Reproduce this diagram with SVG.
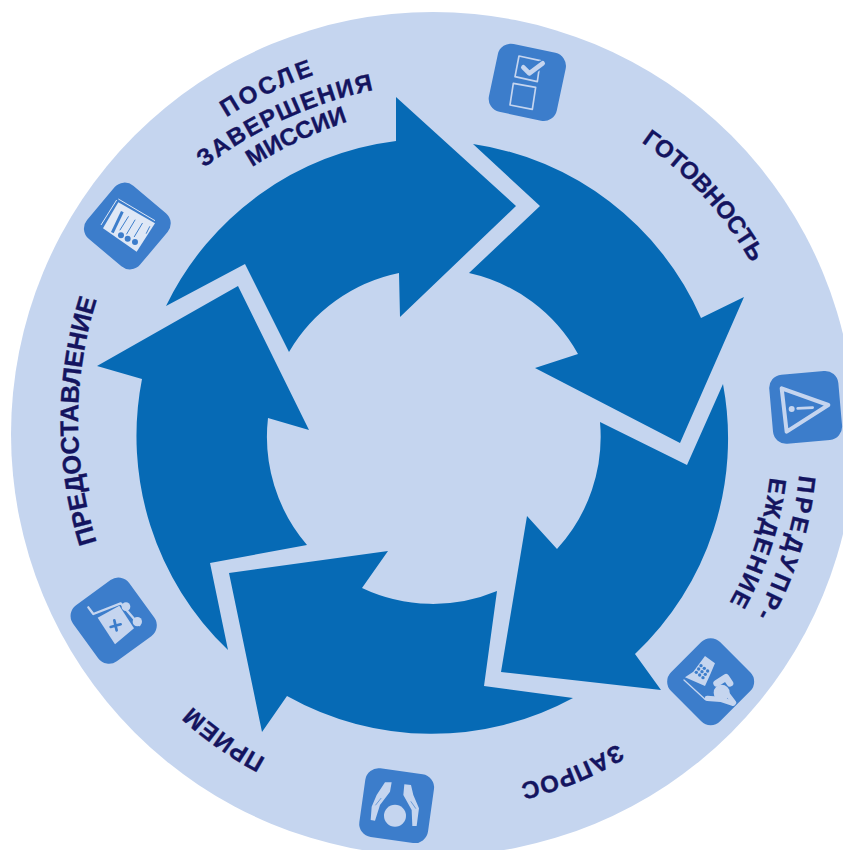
<svg xmlns="http://www.w3.org/2000/svg" width="843" height="850" viewBox="0 0 843 850">
<style>
.arrow{fill:#066ab5}
.bg{fill:#3c7dcb}
.l{fill:#c5d5ef}
.s{fill:none;stroke:#c5d5ef;stroke-linejoin:round;stroke-linecap:round}
.b{fill:none;stroke:#3c7dcb;stroke-linecap:round}
.t{font-family:"Liberation Sans",Arial,sans-serif;font-weight:700;font-size:24px;fill:#14145f;stroke:#14145f;stroke-width:.35;text-anchor:middle}
</style>
<defs>
<path id="r336" d="M-336,0A336,336 0 0 1 336,0"/>
<path id="r355" d="M-355,0A355,355 0 0 1 355,0"/>
<path id="r400" d="M-400,0A400,400 0 0 1 400,0"/>
<path id="r361" d="M-361,0A361,361 0 0 1 361,0"/>
<path id="r362" d="M-362,0A362,362 0 0 1 362,0"/>
<path id="r365" d="M-365,0A365,365 0 0 1 365,0"/>
<path id="r420" d="M-420,0A420,420 0 0 1 420,0"/>
</defs>
<circle id="disc" cx="433" cy="434" r="422" fill="#c5d5ef"/>
<g id="connectors">
<path class="arrow" d="M166,306A296,296 0 0 1 396,141L396,97L516,206L400,317L399,273A166,166 0 0 0 289,352L245,264Z"/>
<path class="arrow" d="M473,144A296,296 0 0 1 701,318L744,297L680,443L535,368L578,354A166,166 0 0 0 469,273L540,206Z"/>
<path class="arrow" d="M723,384A296,296 0 0 1 635,654L661,690L501,672L527,516L557,549A166,166 0 0 0 600,422L687,465Z"/>
<path class="arrow" d="M573,698A296,296 0 0 1 287,696L262,732L229,573L388,551L362,588A166,166 0 0 0 497,591L484,686Z"/>
<path class="arrow" d="M228,650A296,296 0 0 1 142,379L97,366L238,286L309,430L268,418A166,166 0 0 0 307,545L210,563Z"/>
</g>
<g id="icon-checklist" transform="translate(470,30) scale(.3333)">
<rect class="bg" x="68" y="53" width="208" height="208" rx="40" transform="rotate(12 172 157)"/>
<path class="s" stroke-width="5" d="M147,78L211,92L202,155L135,140Z"/>
<path class="s" stroke-width="5" d="M130,160L197,172L187,238L120,225Z"/>
<path fill="none" stroke="#3c7dcb" stroke-width="24" d="M160,112L178,130L218,100"/>
<path class="s" stroke-width="14" stroke-linecap="butt" d="M160,112L178,130L218,100"/>
</g>
<g id="icon-warning" transform="translate(750,360) scale(.3333)">
<rect class="bg" x="63" y="38" width="208" height="208" rx="40" transform="rotate(-5 167 142)"/>
<path class="s" stroke-width="12" d="M95,85L235,135L110,215Z"/>
<circle class="l" cx="125" cy="147" r="9"/>
<path class="s" stroke-width="8" d="M143,145L188,143"/>
</g>
<g id="icon-phone" transform="translate(650,620) scale(.3333)">
<rect class="bg" x="78" y="81" width="208" height="208" rx="40" transform="rotate(45 182 185)"/>
<path class="l" d="M165,108L195,130L180,165L165,198L105,172L130,155Z"/>
<g fill="#3c7dcb"><circle cx="153" cy="137" r="5"/><circle cx="163" cy="145" r="5"/><circle cx="173" cy="153" r="5"/><circle cx="146" cy="147" r="5"/><circle cx="156" cy="155" r="5"/><circle cx="166" cy="163" r="5"/><circle cx="139" cy="157" r="5"/><circle cx="149" cy="165" r="5"/><circle cx="159" cy="173" r="5"/></g>
<path class="s" stroke-width="4" d="M102,180L165,238"/>
<circle class="l" cx="215" cy="218" r="24"/>
<path class="s" stroke-width="20" stroke-linecap="butt" d="M200,190L228,172L240,190"/>
<path class="s" stroke-width="16" d="M172,235L212,238L248,250"/>
<path class="s" stroke-width="14" d="M232,222L252,248"/>
</g>
<g id="icon-hands" transform="translate(345,750) scale(.3333)">
<rect class="bg" x="51" y="63" width="208" height="208" rx="40" transform="rotate(8 155 167)"/>
<circle class="l" cx="150" cy="197" r="33"/>
<path class="l" d="M120,97L140,97L135,125L105,165L90,212L77,210L80,170L95,135Z"/>
<path class="l" d="M178,103L198,105L205,135L222,175L215,228L202,228L200,180L175,135Z"/>
<path class="b" stroke-width="2" d="M108,145L92,165M198,155L212,175"/>
</g>
<g id="icon-stretcher" transform="translate(60,565) scale(.3333)">
<rect class="bg" x="57" y="63" width="208" height="208" rx="40" transform="rotate(-36 161 167)"/>
<path class="s" stroke-width="7" d="M85,127L100,147L182,115L238,180"/>
<circle class="l" cx="198" cy="125" r="13"/>
<circle class="l" cx="232" cy="170" r="14"/>
<path class="l" d="M113,158L178,122L222,190L165,238Z"/>
<path class="b" stroke-width="8" stroke-linecap="butt" d="M152,186L182,178M163,166L170,196"/>
</g>
<g id="icon-documents" transform="translate(75,170) scale(.3333)">
<rect class="bg" x="53" y="64" width="208" height="208" rx="40" transform="rotate(40 157 168)"/>
<path fill="none" stroke="#dfe8f6" stroke-width="3" d="M125,90L78,165M130,87L240,152"/>
<path fill="#dfe8f6" d="M130,97L240,160L185,245L84,175Z"/>
<g class="b"><path stroke-width="9" stroke-linecap="butt" d="M142,125L112,188"/><path stroke-width="3" d="M160,140L135,180M180,150L155,192M202,160L178,200M224,170L214,190"/></g>
<circle cx="138" cy="196" r="9" fill="#3c7dcb"/><circle cx="158" cy="206" r="9" fill="#3c7dcb"/><circle cx="180" cy="216" r="9" fill="#3c7dcb"/>
</g>
<g id="label-gotovnost"><text class="t" letter-spacing="-.2" transform="translate(436,439) rotate(47.7)"><textPath href="#r361" startOffset="50%">ГОТОВНОСТЬ</textPath></text></g>
<g id="label-preduprezhdenie"><text class="t" letter-spacing="3.5" transform="translate(436,439) rotate(107.5)"><textPath href="#r365" startOffset="50%">ПРЕДУПР-</textPath></text><text class="t" letter-spacing="1.9" transform="translate(436,439) rotate(108)"><textPath href="#r336" startOffset="50%">ЕЖДЕНИЕ</textPath></text></g>
<g id="label-zapros"><text class="t" letter-spacing="1" transform="translate(436,439) rotate(157.8)"><textPath href="#r355" startOffset="50%">ЗАПРОС</textPath></text></g>
<g id="label-priem"><text class="t" letter-spacing="1" transform="translate(436,439) rotate(215.3)"><textPath href="#r362" startOffset="50%">ПРИЕМ</textPath></text></g>
<g id="label-predostavlenie"><text class="t" style="font-size:25.5px" transform="translate(478,421) rotate(-90)"><textPath href="#r400" startOffset="50%">ПРЕДОСТАВЛЕНИЕ</textPath></text></g>
<g id="label-posle"><text class="t" letter-spacing="3" transform="translate(453,471) rotate(-25.8)"><textPath href="#r420" startOffset="50%">ПОСЛЕ</textPath></text><text class="t" letter-spacing="1.6" transform="translate(460,501) rotate(-24.6)"><textPath href="#r420" startOffset="50%">ЗАВЕРШЕНИЯ</textPath></text><text class="t" transform="translate(478,521) rotate(-25.3)"><textPath href="#r420" startOffset="50%">МИССИИ</textPath></text></g>
</svg>
